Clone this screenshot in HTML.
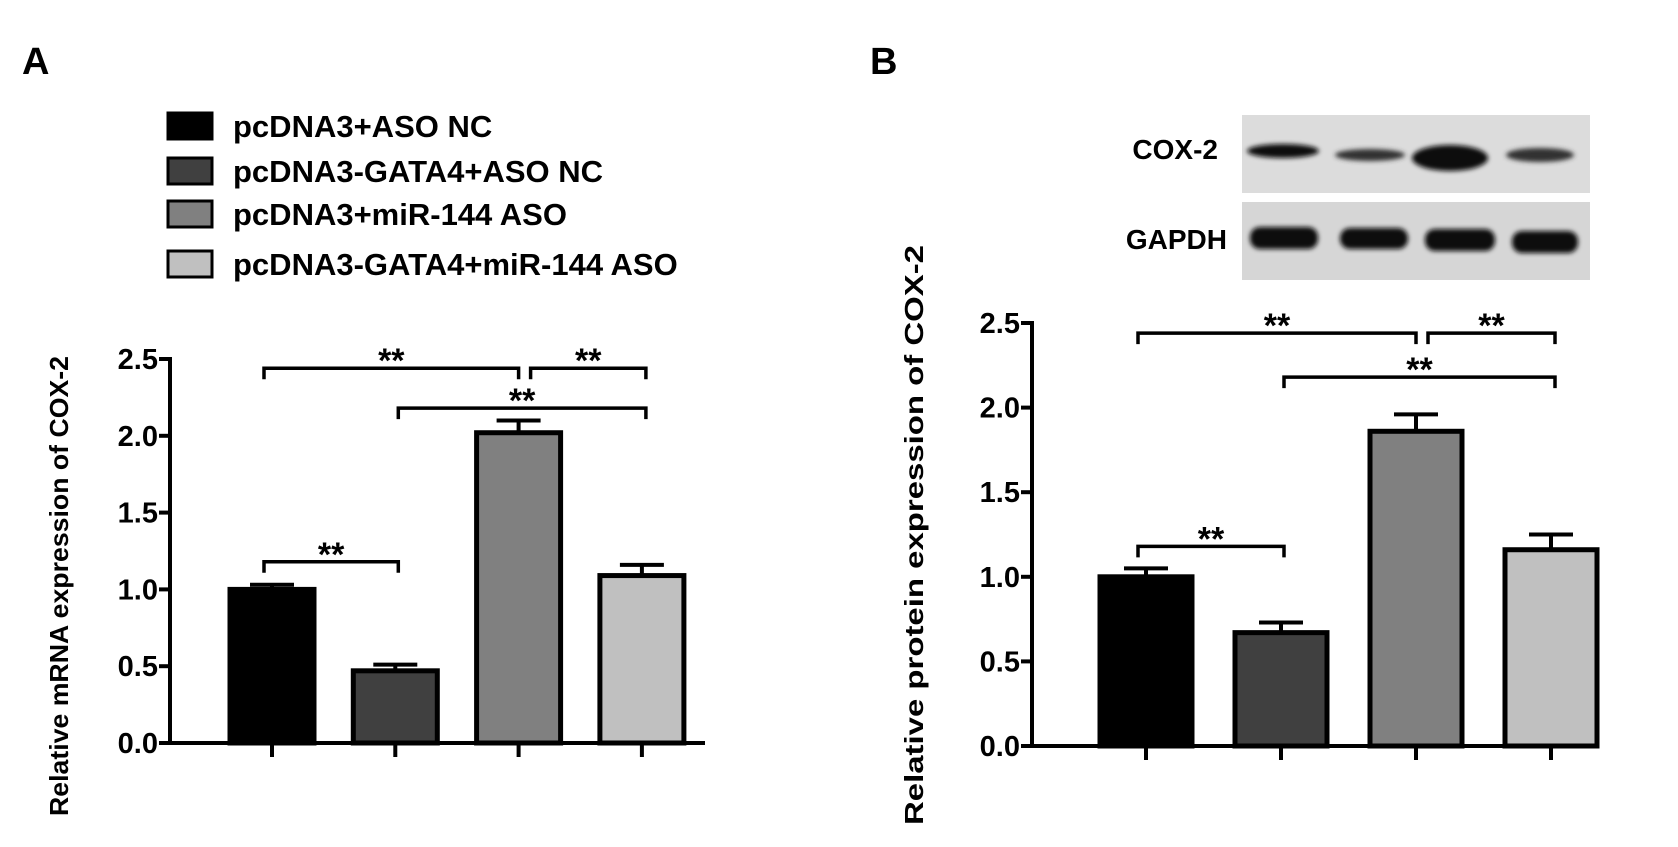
<!DOCTYPE html>
<html><head><meta charset="utf-8">
<style>
html,body{margin:0;padding:0;background:#fff;}
svg{display:block;font-family:"Liberation Sans",Arial,sans-serif;font-weight:bold;}
</style></head>
<body>
<svg id="fig" width="1678" height="847" viewBox="0 0 1678 847" xmlns="http://www.w3.org/2000/svg">
  <rect x="0" y="0" width="1678" height="847" fill="#fff"/>
  <text x="22" y="74" font-size="38">A</text>
  <text x="870" y="74" font-size="38">B</text>

  <g id="legend"></g>

  <g>
    <defs>
      <filter id="blur" x="-20%" y="-50%" width="140%" height="200%"><feGaussianBlur stdDeviation="2.5"/></filter>
    </defs>
    <text x="1218" y="159" font-size="28" text-anchor="end">COX-2</text>
    <text x="1227" y="249" font-size="28" text-anchor="end">GAPDH</text>
    <rect x="1242" y="115" width="348" height="78" fill="#dcdcdc"/>
    <rect x="1242" y="202" width="348" height="78" fill="#d6d6d6"/>
    <g filter="url(#blur)" fill="#111">
      <ellipse cx="1283" cy="151" rx="36" ry="7"/>
      <ellipse cx="1370" cy="155" rx="35" ry="6" fill="#333"/>
      <ellipse cx="1450" cy="158" rx="38" ry="13"/>
      <ellipse cx="1540" cy="155" rx="34" ry="7" fill="#333"/>
      <rect x="1250" y="227" width="68" height="22" rx="10"/>
      <rect x="1340" y="228" width="68" height="21" rx="10"/>
      <rect x="1425" y="229" width="70" height="22" rx="10"/>
      <rect x="1512" y="231" width="66" height="22" rx="10"/>
    </g>
  </g>

  <g id="chartA"></g>
  <g id="chartB"></g>
</svg>
<script>
const groups = ["pcDNA3+ASO NC","pcDNA3-GATA4+ASO NC","pcDNA3+miR-144 ASO","pcDNA3-GATA4+miR-144 ASO"];
const fills = ["#000000","#404040","#808080","#c0c0c0"];
const mrnaValues = [1.00, 0.47, 2.02, 1.09];
const mrnaErrors = [0.03, 0.04, 0.08, 0.07];
const proteinValues = [1.00, 0.67, 1.86, 1.16];
const proteinErrors = [0.05, 0.06, 0.10, 0.09];
const yTicks = [0.0, 0.5, 1.0, 1.5, 2.0, 2.5];
const yTickLabels = ["0.0","0.5","1.0","1.5","2.0","2.5"];
const sigA = [[0,2,2.44],[2,3,2.44],[1,3,2.18],[0,1,1.18]];
const sigB = [[0,2,2.44],[2,3,2.44],[1,3,2.18],[0,1,1.18]];

const NS = "http://www.w3.org/2000/svg";
function mk(parent, tag, attrs){ const e=document.createElementNS(NS,tag); for(const k in attrs) e.setAttribute(k,attrs[k]); parent.appendChild(e); return e; }

const lg = document.getElementById('legend');
const legY = [112,157,200,250];
groups.forEach((g,i)=>{
  const r = mk(lg,'rect',{x:168,y:legY[i]+1,width:44,height:26,fill:fills[i],stroke:'#000','stroke-width':3});
  
  
  const t = mk(lg,'text',{x:233,y:legY[i]+25,'font-size':31});
  t.textContent = g;
  
  
});

function drawChart(gid, cfg, values, errors, sig){
  const g = document.getElementById(gid);
  const y = v => cfg.zero - v*cfg.unit;
  const x = i => cfg.x0 + i*cfg.step;
  const ax = mk(g,'line',{x1:cfg.axisX,y1:y(2.5)-2,x2:cfg.axisX,y2:cfg.zero+2,stroke:'#000','stroke-width':4});
   
  yTicks.forEach((v,i)=>{
    const tk = mk(g,'line',{x1:cfg.axisX-11,y1:y(v),x2:cfg.axisX,y2:y(v),stroke:'#000','stroke-width':4});
     
    const tl = mk(g,'text',{x:cfg.axisX-12,y:y(v)+10,'font-size':29,'text-anchor':'end'});
    tl.textContent = yTickLabels[i];
     
  });
  const xa = mk(g,'line',{x1:cfg.axisX-2,y1:cfg.zero,x2:cfg.xEnd,y2:cfg.zero,stroke:'#000','stroke-width':4});
   
  values.forEach((v,i)=>{
    const cx = x(i);
    const b = mk(g,'rect',{x:cx-cfg.bw/2,y:y(v),width:cfg.bw,height:cfg.zero-y(v),fill:fills[i],stroke:'#000','stroke-width':5});
     
    const e1 = mk(g,'line',{x1:cx,y1:y(v),x2:cx,y2:y(v+errors[i]),stroke:'#000','stroke-width':4});
     
    const e2 = mk(g,'line',{x1:cx-22,y1:y(v+errors[i]),x2:cx+22,y2:y(v+errors[i]),stroke:'#000','stroke-width':4});
     
    const t = mk(g,'line',{x1:cx,y1:cfg.zero,x2:cx,y2:cfg.zero+14,stroke:'#000','stroke-width':4});
     
  });
  sig.forEach((s,k)=>{
    let x1 = x(s[0]), x2 = x(s[1]);
    if(s[0]===2){ x1 = x(2)+12; }
    if(s[0]===0 && s[1]===2){ x1 = x(0)-8; x2 = x(2); }
    if(s[1]===3){ x2 = x(3)+4; }
    if(s[0]===1 && s[1]===3){ x1 = x(1)+3; }
    if(s[0]===0 && s[1]===1){ x1 = x(0)-8; x2 = x(1)+3; }
    const yy = y(s[2]);
    const p = mk(g,'path',{d:`M${x1} ${yy+11} V${yy} H${x2} V${yy+11}`,fill:'none',stroke:'#000','stroke-width':3.5});
     
    const st = mk(g,'text',{x:(x1+x2)/2,y:yy+4,'font-size':34,'text-anchor':'middle'});
    st.textContent='**';
     
  });
  const tt = mk(g,'text',{x:0,y:0,'font-size':26,'text-anchor':'middle',transform:`translate(${cfg.titleX},${cfg.titleY}) rotate(-90)`,textLength:cfg.titleLen,lengthAdjust:'spacingAndGlyphs'});
  tt.textContent = cfg.title;
   
}

drawChart('chartA',{zero:743,unit:153.6,axisX:170,x0:272,step:123.3,bw:84,xEnd:705,
  titleX:68,titleY:586,titleLen:460,title:'Relative mRNA expression of COX-2'},mrnaValues,mrnaErrors,sigA);
drawChart('chartB',{zero:746,unit:169.2,axisX:1032,x0:1146,step:135,bw:92,xEnd:1595,
  titleX:923,titleY:535,titleLen:580,title:'Relative protein expression of COX-2'},proteinValues,proteinErrors,sigB);
</script>
</body></html>
